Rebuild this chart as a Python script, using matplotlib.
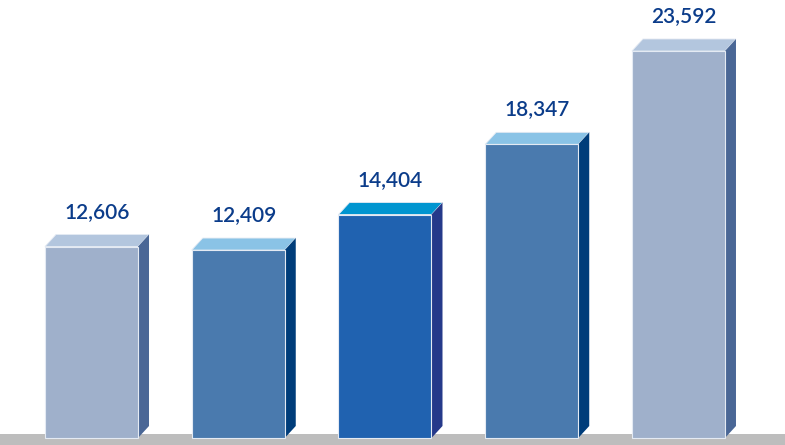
import matplotlib
matplotlib.use("Agg")
import matplotlib.pyplot as plt
from matplotlib.patches import Polygon, Rectangle

# data
values = [12606, 12409, 14404, 18347, 23592]
labels = ["12,606", "12,409", "14,404", "18,347", "23,592"]

# colours per bar: front, top, side
front_cols = ["#9FB0CB", "#4A7AAE", "#2062B0", "#4A7AAE", "#9FB0CB"]
top_cols = ["#B3C6DE", "#8AC3E6", "#0095D0", "#8AC3E6", "#B3C6DE"]
side_cols = ["#4A6796", "#003D7A", "#25398A", "#003D7A", "#4A6796"]

W, H = 785, 445
fig = plt.figure(figsize=(W / 100, H / 100), dpi=100)
ax = fig.add_axes([0, 0, 1, 1])
x0, x1 = -0.6235, 4.726
y0, y1 = 1457, 26457
ax.set_xlim(x0, x1)
ax.set_ylim(y0, y1)
ax.axis("off")

# grey floor
ax.add_patch(Rectangle((0, 0), 1, 11 / H, transform=ax.transAxes,
                       facecolor="#BDBDBD", edgecolor="none", zorder=0))

base = 1850
width = 0.634
# depth offsets converted from pixels to data units
px_x = (x1 - x0) / W
px_y = (y1 - y0) / H
dx = 11 * px_x
dy = 12 * px_y

xs = list(range(len(values)))
ax.bar(xs, [v - base for v in values], bottom=base, width=width,
       color=front_cols, edgecolor="#E4EAF3", linewidth=0.8, zorder=3)

for i, v in enumerate(values):
    left = i - width / 2
    right = i + width / 2
    top = Polygon([(left, v), (left + dx, v + dy), (right + dx, v + dy), (right, v)],
                  closed=True, facecolor=top_cols[i], edgecolor="#E4EAF3",
                  linewidth=0.6, zorder=2)
    side = Polygon([(right, base), (right + dx, base + dy), (right + dx, v + dy), (right, v)],
                   closed=True, facecolor=side_cols[i], edgecolor="none", zorder=2)
    ax.add_patch(top)
    ax.add_patch(side)
    ax.text(i + dx / 2, v + 35 * px_y, labels[i], ha="center", va="center",
            fontsize=15, color="#0B3C8A", family="Lato", fontweight="semibold")

plt.savefig("out.png", dpi=100)
